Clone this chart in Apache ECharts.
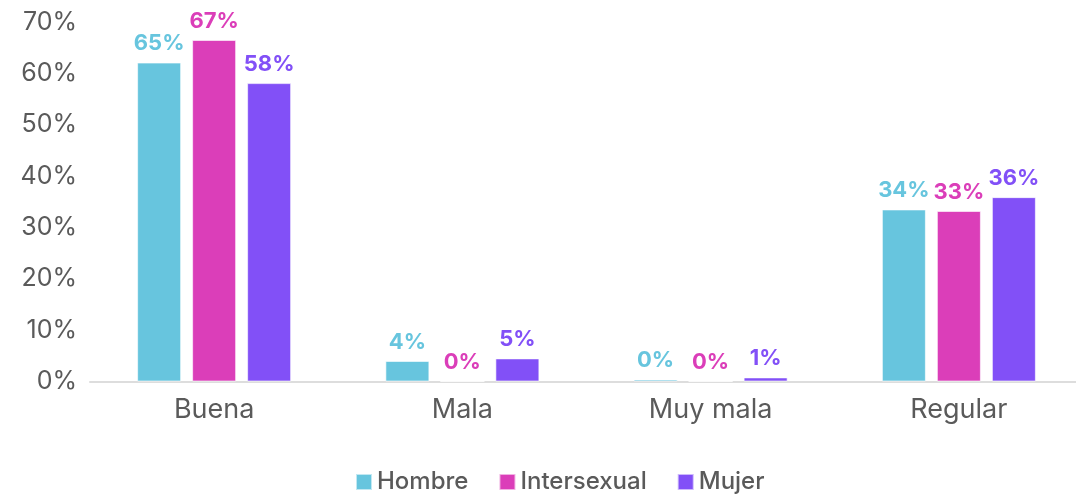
<!DOCTYPE html>
<html>
<head>
<meta charset="utf-8">
<script src="https://cdn.jsdelivr.net/npm/echarts@6/dist/echarts.min.js"></script>
<style>
  html, body { margin: 0; padding: 0; background: #fff; overflow: hidden; }
  #chart { width: 1090px; height: 495px; }
</style>
</head>
<body>
<div id="chart"></div>
<script>
// categories and series
var categories = ["Buena", "Mala", "Muy mala", "Regular"];
var seriesNames = ["Hombre", "Intersexual", "Mujer"];
// bar heights (%)
var hombre = [62.1, 4.0, 0.4, 33.5];
var intersexual = [66.5, 0, 0, 33.2];
var mujer = [58.1, 4.5, 0.8, 35.9];
// printed labels (%)
var hombreLabels = [65, 4, 0, 34];
var intersexualLabels = [67, 0, 0, 33];
var mujerLabels = [58, 5, 1, 36];
var colors = ["#67c5de", "#db3eb9", "#8250f7"];

var myChart = echarts.init(document.getElementById("chart"));

function makeSeries(name, data, labels, color) {
  return {
    name: name,
    type: "bar",
    data: data,
    barWidth: 44,
    barGap: "25%",
    itemStyle: {
      color: color,
      borderColor: "rgba(255,255,255,0.6)",
      borderWidth: 1,
    },
    label: {
      show: true,
      position: "top",
      distance: 8,
      color: color,
      fontSize: 22,
      fontWeight: "bold",
      fontFamily: "Inter",
      formatter: function(p) {
        return labels[p.dataIndex] + "%";
      },
    },
  };
}

var option = {
  backgroundColor: "#fff",
  animation: false,
  color: colors,
  grid: {
    left: 90,
    top: 22,
    width: 993,
    bottom: 113.5,
    containLabel: false,
  },
  legend: {
    data: seriesNames,
    left: 350,
    top: 465,
    itemWidth: 16,
    itemHeight: 16,
    itemGap: 30,
    icon: "rect",
    textStyle: {
      color: "#5a5a5a",
      fontSize: 24,
      fontWeight: 500,
      fontFamily: "Inter",
    },
  },
  xAxis: {
    type: "category",
    data: categories,
    axisLine: {
      show: true,
      lineStyle: { color: "#dddddd", width: 2 },
    },
    axisTick: { show: false },
    axisLabel: {
      color: "#5a5a5a",
      fontSize: 27,
      fontFamily: "Inter",
      margin: 15,
    },
  },
  yAxis: {
    type: "value",
    min: 0,
    max: 70,
    interval: 10,
    axisLine: { show: false },
    axisTick: { show: false },
    splitLine: { show: false },
    axisLabel: {
      color: "#5a5a5a",
      fontSize: 25,
      fontFamily: "Inter",
      margin: 13,
      formatter: "{value}%",
    },
  },
  series: [
    makeSeries(seriesNames[0], hombre, hombreLabels, colors[0]),
    makeSeries(seriesNames[1], intersexual, intersexualLabels, colors[1]),
    makeSeries(seriesNames[2], mujer, mujerLabels, colors[2]),
  ],
};

option && myChart.setOption(option);
</script>
</body>
</html>
